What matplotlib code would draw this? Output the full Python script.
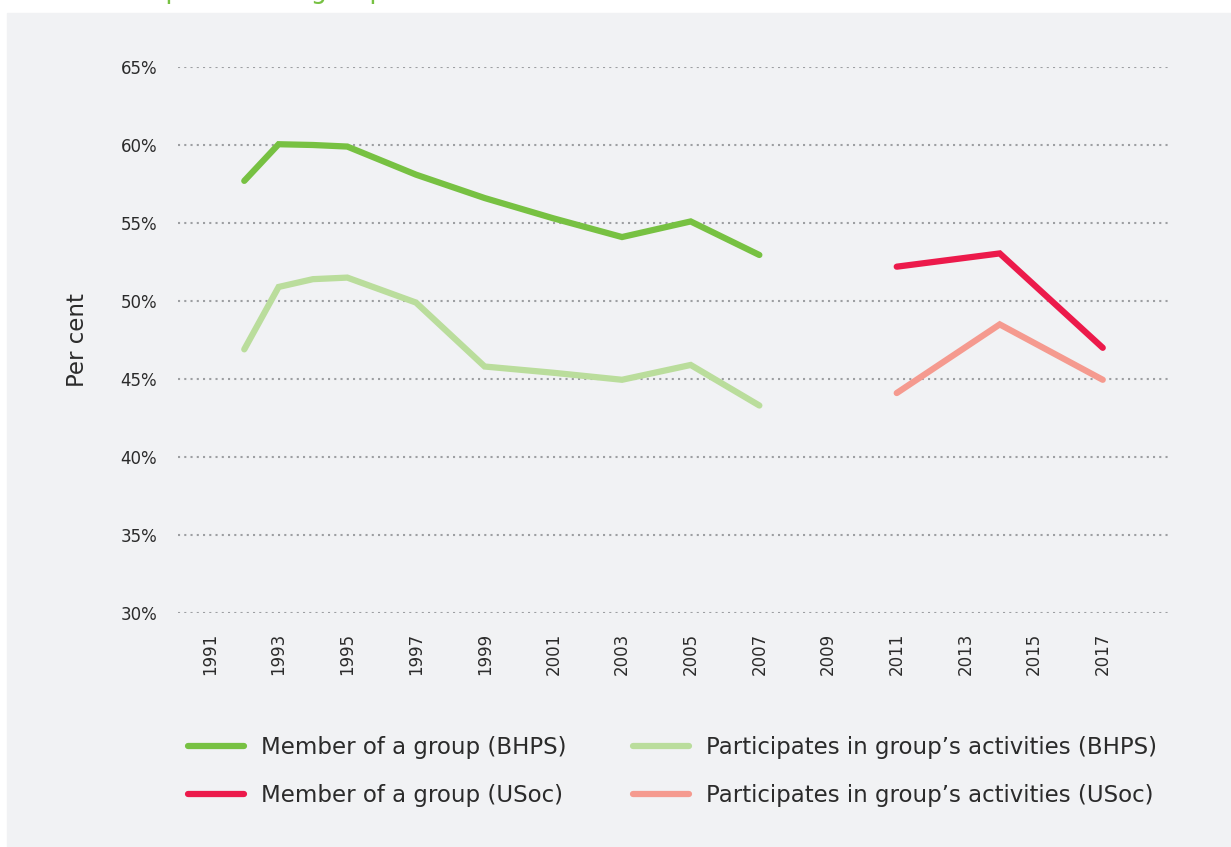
import matplotlib
matplotlib.use("Agg")
import matplotlib.pyplot as plt
from matplotlib.patches import Rectangle
from matplotlib.ticker import FuncFormatter

plt.rcParams["font.family"] = ["DejaVu Sans"]

# BHPS waves
bhps_years = [1992, 1993, 1994, 1995, 1997, 1999, 2001, 2003, 2005, 2007]
member_bhps = [57.7, 60.05, 60.0, 59.9, 58.1, 56.6, 55.3, 54.1, 55.1, 52.95]
particip_bhps = [46.9, 50.9, 51.4, 51.5, 49.9, 45.8, 45.4, 44.95, 45.9, 43.3]

# Understanding Society waves
usoc_years = [2011, 2014, 2017]
member_usoc = [52.2, 53.05, 47.0]
particip_usoc = [44.1, 48.5, 44.95]

x_ticks = list(range(1991, 2018, 2))
y_ticks = [30, 35, 40, 45, 50, 55, 60, 65]

W, H = 1231, 847
BG = "#F1F2F4"
TEXT = "#2B2B2B"

fig = plt.figure(figsize=(W / 100, H / 100), dpi=100, facecolor="white")

# grey panel behind the chart
panel = Rectangle((7 / W, 0), 1 - 7 / W, 1 - 13 / H,
                  transform=fig.transFigure, color=BG, zorder=-10)
fig.add_artist(panel)

# title, mostly cut off at the top edge (as in the source image)
fig.text(86 / W, 1 + 2 / H, "Participation in a group", color="#77C142",
         fontsize=18.5, va="baseline", ha="left")

ax = fig.add_axes([178 / W, 1 - 613 / H, (1168 - 178) / W, (613 - 67) / H])
ax.set_zorder(1)
ax.set_facecolor(BG)
for s in ax.spines.values():
    s.set_visible(False)

ax.set_xlim(1990.07, 2018.9)
ax.set_ylim(30, 65)
ax.set_yticks(y_ticks)
ax.set_xticks(x_ticks)
ax.yaxis.set_major_formatter(FuncFormatter(lambda v, p: f"{v:.0f}%"))
ax.tick_params(axis="both", length=0, colors=TEXT, labelsize=12)
ax.tick_params(axis="x", labelrotation=90, pad=14)
ax.tick_params(axis="y", pad=15)
ax.grid(axis="y", color="#9D9FA2", linestyle=(0, (1, 2)), linewidth=1.5)
ax.set_axisbelow(True)

ax.set_ylabel("Per cent", fontsize=16.5, color=TEXT, va="center")
ax.yaxis.set_label_coords((78 - 178) / 990, 0.5)

lw = 4.5
ax.plot(bhps_years, member_bhps, color="#77C142", lw=lw,
        solid_capstyle="round", solid_joinstyle="miter",
        label="Member of a group (BHPS)")
ax.plot(bhps_years, particip_bhps, color="#BADD9C", lw=lw,
        solid_capstyle="round", solid_joinstyle="miter",
        label="Participates in group\u2019s activities (BHPS)")
ax.plot(usoc_years, member_usoc, color="#EC1A4B", lw=lw,
        solid_capstyle="round", solid_joinstyle="miter",
        label="Member of a group (USoc)")
ax.plot(usoc_years, particip_usoc, color="#F59A8F", lw=lw,
        solid_capstyle="round", solid_joinstyle="miter",
        label="Participates in group\u2019s activities (USoc)")

handles, labels = ax.get_legend_handles_labels()
order = [0, 2, 1, 3]
leg = fig.legend([handles[i] for i in order], [labels[i] for i in order],
                 loc="upper left", bbox_to_anchor=(188 / W, 1 - 736 / H),
                 ncol=2, frameon=False, fontsize=16.5, borderpad=0,
                 borderaxespad=0, handlelength=2.45, handletextpad=0.73,
                 columnspacing=2.9, labelspacing=1.08)
for t in leg.get_texts():
    t.set_color(TEXT)

fig.savefig("out.png", dpi=100, facecolor=fig.get_facecolor())
